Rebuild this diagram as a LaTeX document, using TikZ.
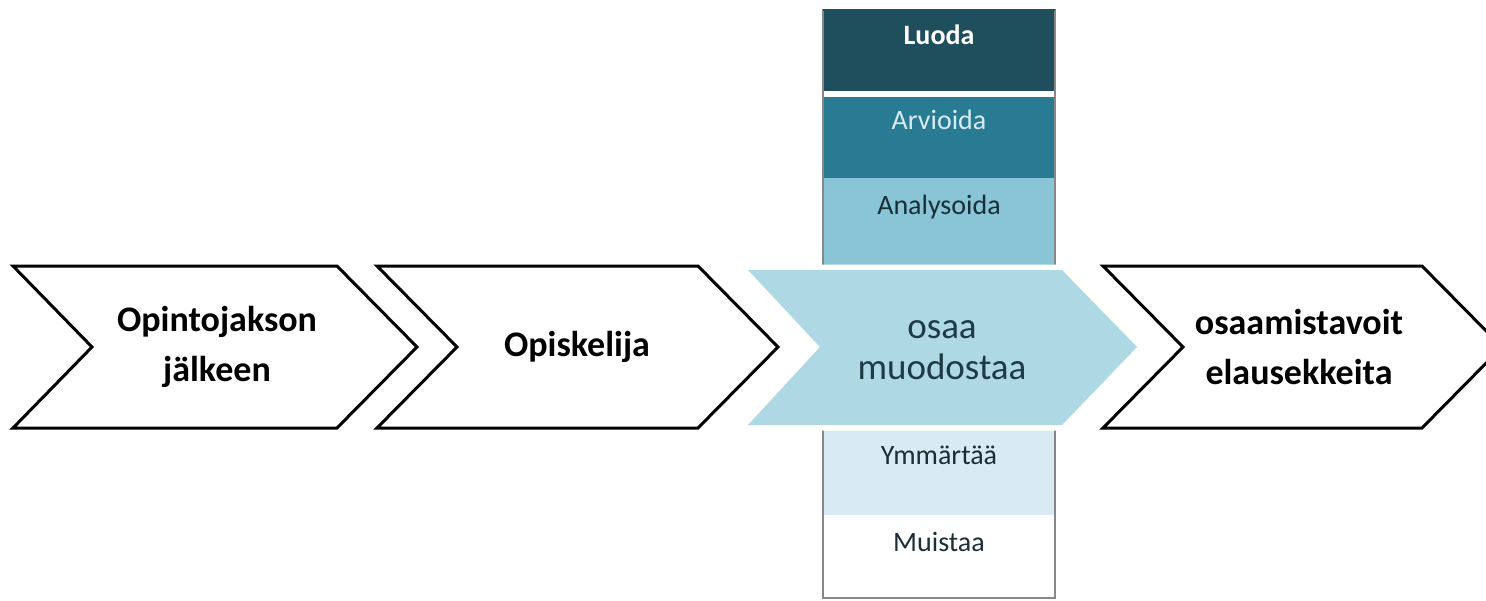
\documentclass[tikz,border=0pt]{standalone}
\usepackage{fontspec}
\setmainfont{Carlito}
\definecolor{cLuoda}{RGB}{31,78,92}
\definecolor{cArv}{RGB}{40,123,146}
\definecolor{cAna}{RGB}{137,197,214}
\definecolor{cYmm}{RGB}{216,235,242}
\definecolor{cMid}{RGB}{174,216,228}
\definecolor{cMidText}{RGB}{30,58,68}
\definecolor{cDark}{RGB}{26,46,53}
\definecolor{cArvText}{RGB}{214,236,242}
\definecolor{cBorder}{RGB}{135,135,135}
\tikzset{
  x=1pt, y=-1pt,
  chev/.style={draw=black, line width=3pt, fill=white, line join=miter},
  chevtext/.style={font=\fontsize{36}{50}\selectfont\bfseries, align=center, text=black, inner sep=0pt},
  midtext/.style={font=\fontsize{37}{41}\selectfont, align=center, text=cMidText, inner sep=0pt},
  bandtext/.style={font=\fontsize{28}{32}\selectfont, anchor=base, inner sep=0pt},
}
\begin{document}
\begin{tikzpicture}
\useasboundingbox (0,0) rectangle (1486,600);
\clip (0,0) rectangle (1486,600);
% column bands
\fill[cLuoda] (823,10) rectangle (1055,91);
\fill[cArv] (823,97) rectangle (1055,178);
\fill[cAna] (823,178) rectangle (1055,268);
\fill[cYmm] (823,428) rectangle (1055,515);
\fill[white] (823,515) rectangle (1055,598);
\draw[cBorder, line width=2pt] (823,268) -- (823,10) -- (1055,10) -- (1055,268);
\draw[cLuoda, line width=2pt] (823,10) -- (1055,10);
\draw[cBorder, line width=2pt] (823,428) -- (823,598) -- (1055,598) -- (1055,428);
% chevrons
\draw[chev] (13,266) -- (337,266) -- (417,347) -- (337,428) -- (13,428) -- (92,347) -- cycle;
\draw[chev] (377,266) -- (698,266) -- (778,347) -- (698,428) -- (377,428) -- (457,347) -- cycle;
\draw[chev] (1103,266) -- (1422,266) -- (1502,347) -- (1422,428) -- (1103,428) -- (1183,347) -- cycle;
% central chevron
\draw[white, line width=11pt, line join=miter] (748,270) -- (1062,270) -- (1137,347) -- (1062,425) -- (748,425) -- (820,347) -- cycle;
\fill[cMid] (748,270) -- (1062,270) -- (1137,347) -- (1062,425) -- (748,425) -- (820,347) -- cycle;
% texts
\node[chevtext] (t1) at (217,347) {Opintojakson\\jälkeen};
\node[chevtext] (t2) at (577,347) {Opiskelija};
\node[midtext] (t3) at (942,350) {osaa\\muodostaa};
\node[chevtext] (t4) at (1299,347) {osaamistavoit\\elausekkeita};
\node[bandtext, text=white, font=\fontsize{28}{32}\selectfont\bfseries] (luoda) at (939,44) {Luoda};
\node[bandtext, text=cArvText] (arv) at (939,129) {Arvioida};
\node[bandtext, text=cDark] (ana) at (939,214) {Analysoida};
\node[bandtext, text=cDark] (ymm) at (939,464) {Ymmärtää};
\node[bandtext, text=cDark] (mui) at (939,551) {Muistaa};
\end{tikzpicture}
\end{document}
